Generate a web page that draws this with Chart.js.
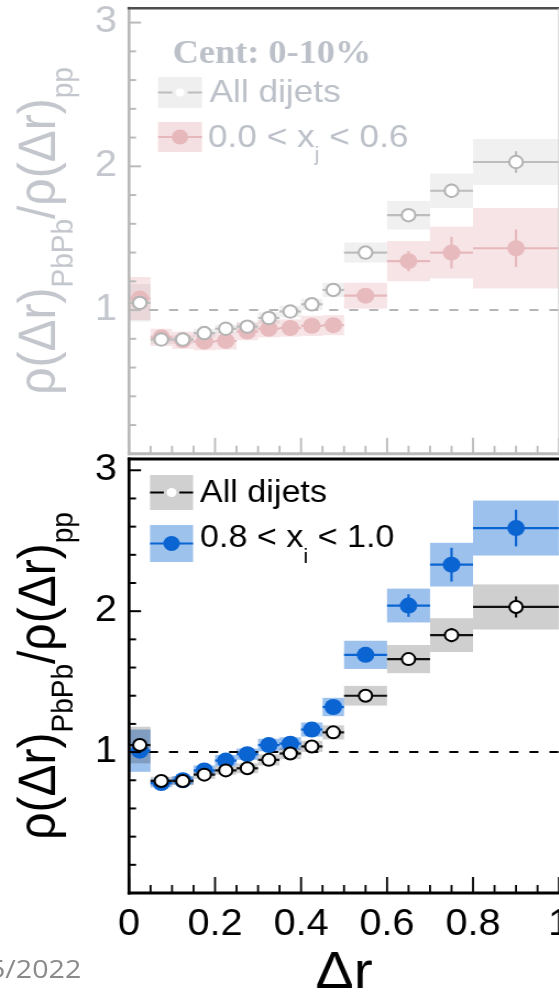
<!DOCTYPE html>
<html lang="en">
<head>
<meta charset="UTF-8">
<title>Jet shape ratio PbPb / pp</title>
<style>
  html, body { margin: 0; padding: 0; background: #fff; }
  body { width: 559px; height: 993px; overflow: hidden; position: relative; }
  /* the figure is drawn slightly wide, as in the slide it comes from */
  #figure { position: absolute; left: 0; top: 0; width: 560px; height: 993px;
            transform: scaleX(1.1); transform-origin: 0 0; }
  #topPanel { position: absolute; left: 0; top: 0; }
  #bottomPanel { position: absolute; left: 0; top: 440px; }
  #footer { position: absolute; left: -10px; top: 955px; font: 26px/26px 'Open Sans', sans-serif; color: #8a8a8a; white-space: nowrap; }
</style>
<script src="https://cdn.jsdelivr.net/npm/chart.js@4"></script>
</head>
<body>
<div id="figure">
  <canvas id="topPanel" width="560" height="462" style="width:560px;height:462px"></canvas>
  <canvas id="bottomPanel" width="560" height="553" style="width:560px;height:553px"></canvas>
  <div id="footer">5/2022</div>
</div>

<script>
const STRETCH = 1.1;

// Δr bins
const binLo  = [0, 0.05, 0.1, 0.15, 0.2, 0.25, 0.3, 0.35, 0.4, 0.45, 0.5, 0.6, 0.7, 0.8];
const binHi  = [0.05, 0.1, 0.15, 0.2, 0.25, 0.3, 0.35, 0.4, 0.45, 0.5, 0.6, 0.7, 0.8, 1.0];
const binMid = [0.025, 0.075, 0.125, 0.175, 0.225, 0.275, 0.325, 0.375, 0.425, 0.475, 0.55, 0.65, 0.75, 0.9];

// all dijets (same in both panels)
const allDijets     = [1.05, 0.795, 0.795, 0.84, 0.87, 0.885, 0.945, 0.99, 1.04, 1.14, 1.40, 1.66, 1.83, 2.03];
const allDijetsStat = [0.01, 0.005, 0.005, 0.005, 0.005, 0.005, 0.005, 0.01, 0.01, 0.01, 0.02, 0.03, 0.05, 0.075];
const allDijetsSys  = [0.13, 0.03, 0.03, 0.03, 0.03, 0.035, 0.04, 0.04, 0.04, 0.05, 0.07, 0.10, 0.12, 0.16];

// 0.0 < xj < 0.6
const xjLow     = [1.08, 0.81, 0.79, 0.78, 0.785, 0.85, 0.87, 0.875, 0.89, 0.895, 1.10, 1.34, 1.40, 1.43];
const xjLowStat = [0.03, 0.02, 0.02, 0.02, 0.02, 0.02, 0.02, 0.02, 0.03, 0.03, 0.04, 0.07, 0.11, 0.13];
const xjLowSys  = [0.15, 0.06, 0.06, 0.06, 0.06, 0.06, 0.06, 0.06, 0.07, 0.07, 0.09, 0.14, 0.18, 0.28];

// 0.8 < xj < 1.0
const xjHigh     = [1.01, 0.78, 0.80, 0.87, 0.94, 0.985, 1.05, 1.06, 1.16, 1.32, 1.69, 2.04, 2.33, 2.59];
const xjHighStat = [0.02, 0.01, 0.01, 0.01, 0.01, 0.01, 0.015, 0.015, 0.02, 0.03, 0.05, 0.08, 0.12, 0.13];
const xjHighSys  = [0.15, 0.03, 0.03, 0.035, 0.04, 0.04, 0.045, 0.045, 0.05, 0.065, 0.10, 0.12, 0.155, 0.195];

const xTicks = [0, 0.2, 0.4, 0.6, 0.8, 1];
const xTickLabels = ['0', '0.2', '0.4', '0.6', '0.8', '1'];
const yTicks = [1, 2, 3];

const SANS = "'Liberation Sans', Arial, sans-serif";
const SERIF = "'Liberation Serif', 'Times New Roman', serif";

function points(values) {
  return binMid.map((x, i) => ({ x: x, y: values[i] }));
}

function line(ctx, x0, y0, x1, y1) {
  ctx.beginPath();
  ctx.moveTo(x0, y0);
  ctx.lineTo(x1, y1);
  ctx.stroke();
}

// text with subscripts: parts = [[text, isSub], ...]
function richText(ctx, parts, x, y, size, subSize, drop, measureOnly) {
  let cx = x;
  parts.forEach(([t, sub]) => {
    ctx.font = (sub ? subSize : size) + 'px ' + SANS;
    if (!measureOnly) ctx.fillText(t, cx, y + (sub ? drop : 0));
    cx += ctx.measureText(t).width;
  });
  return cx - x;
}

const yTitleParts = [['ρ(Δr)', 0], ['PbPb', 1], ['/ρ(Δr)', 0], ['pp', 1]];

function drawYTitle(ctx, area, color) {
  ctx.save();
  ctx.fillStyle = color;
  ctx.textBaseline = 'alphabetic';
  ctx.translate(50, (area.top + area.bottom) / 2);
  ctx.rotate(-Math.PI / 2);
  const w = richText(ctx, yTitleParts, 0, 0, 48, 28, 16, true);
  richText(ctx, yTitleParts, -w / 2, 0, 48, 28, 16, false);
  ctx.restore();
}

// boxes, bin lines, error bars and frame for one panel
function panelDecor(style) {
  return {
    id: 'panelDecor',
    beforeDatasetsDraw(chart) {
      const ctx = chart.ctx, xs = chart.scales.x, ys = chart.scales.y, area = chart.chartArea;
      ctx.save();
      for (let d = chart.data.datasets.length - 1; d >= 0; d--) {
        const ds = chart.data.datasets[d];
        ctx.fillStyle = ds.boxColor;
        ds.data.forEach((p, i) => {
          const x0 = xs.getPixelForValue(binLo[i]), x1 = xs.getPixelForValue(binHi[i]);
          const y0 = ys.getPixelForValue(p.y + ds.sys[i]), y1 = ys.getPixelForValue(p.y - ds.sys[i]);
          ctx.fillRect(x0, y0, x1 - x0, y1 - y0);
        });
      }
      // unity line
      const y1 = ys.getPixelForValue(1);
      ctx.strokeStyle = style.refColor;
      ctx.lineWidth = 2;
      ctx.setLineDash([8.2, 10]);
      line(ctx, area.left, y1, area.right, y1);
      ctx.restore();
    },
    beforeDatasetDraw(chart, args) {
      const ctx = chart.ctx, xs = chart.scales.x, ys = chart.scales.y;
      const ds = chart.data.datasets[args.index];
      ctx.save();
      ctx.strokeStyle = ds.barColor;
      ds.data.forEach((p, i) => {
        const y = ys.getPixelForValue(p.y);
        const xm = xs.getPixelForValue(p.x);
        ctx.lineWidth = 2.2;
        line(ctx, xs.getPixelForValue(binLo[i]), y, xs.getPixelForValue(binHi[i]), y);
        ctx.lineWidth = 2.4 / STRETCH;
        line(ctx, xm, ys.getPixelForValue(p.y + ds.stat[i]), xm, ys.getPixelForValue(p.y - ds.stat[i]));
      });
      ctx.restore();
    },
    afterDraw(chart) {
      const ctx = chart.ctx, xs = chart.scales.x, ys = chart.scales.y, area = chart.chartArea;
      ctx.save();
      ctx.setLineDash([]);
      // inward ticks
      ctx.strokeStyle = style.axisColor;
      ctx.lineWidth = 2 / STRETCH;
      for (let k = 0; k <= 20; k++) {
        const px = xs.getPixelForValue(k * 0.05);
        line(ctx, px, area.bottom, px, area.bottom - (k % 4 === 0 ? 16 : 8));
      }
      ctx.lineWidth = 2;
      for (let k = 1; k * 0.2 <= ys.max; k++) {
        const py = ys.getPixelForValue(k * 0.2);
        line(ctx, area.left, py, area.left + (k % 5 === 0 ? 12 : 7) / STRETCH, py);
      }
      // axes
      ctx.lineWidth = 3;
      line(ctx, area.left - 1.4, area.bottom, chart.width, area.bottom);
      ctx.lineWidth = 3 / STRETCH;
      line(ctx, area.left, area.top - 1.5, area.left, area.bottom + 1.5);
      ctx.strokeStyle = style.frameColor;
      ctx.lineWidth = style.frameWidth;
      line(ctx, area.left - 1.4, area.top, chart.width, area.top);
      if (style.rightColor) {
        ctx.strokeStyle = style.rightColor;
        ctx.lineWidth = 1.5;
        line(ctx, area.right, area.top, area.right, area.bottom);
      }
      drawYTitle(ctx, area, style.labelColor);
      style.legend(ctx, area, xs);
      ctx.restore();
    }
  };
}

function legendEntry(ctx, x0, x1, yTop, yBot, fill, lineColor, gapped, dot, dotR) {
  ctx.fillStyle = fill;
  ctx.fillRect(x0, yTop, x1 - x0, yBot - yTop);
  const ym = (yTop + yBot) / 2, xm = (x0 + x1) / 2;
  ctx.strokeStyle = lineColor;
  ctx.lineWidth = 2;
  if (gapped) {
    line(ctx, x0, ym, xm - 7, ym);
    line(ctx, xm + 7, ym, x1, ym);
  } else {
    line(ctx, x0, ym, x1, ym);
  }
  ctx.fillStyle = dot;
  ctx.beginPath();
  ctx.arc(xm, ym, dotR, 0, Math.PI * 2);
  ctx.fill();
}

function topLegend(ctx) {
  const c = '#bcc0c8';
  ctx.textBaseline = 'alphabetic';
  ctx.fillStyle = c;
  ctx.font = 'bold 33px ' + SERIF;
  ctx.fillText('Cent: 0-10%', 157, 63);
  legendEntry(ctx, 143.6, 183.6, 77, 108, '#efefef', '#bdbdbd', true, '#ffffff', 4);
  ctx.fillStyle = c;
  ctx.font = '32px ' + SANS;
  ctx.fillText('All dijets', 190.5, 101.5);
  legendEntry(ctx, 143.6, 183.6, 122, 152, '#f4e0e2', '#e6b8bc', false, '#e6b8bc', 7.5);
  ctx.fillStyle = c;
  richText(ctx, [['0.0 < x', 0], ['j', 1], [' < 0.6', 0]], 189, 147, 32, 20, 14, false);
}

function bottomLegend(ctx) {
  ctx.textBaseline = 'alphabetic';
  legendEntry(ctx, 136.4, 175.5, 35, 70, '#d0d0d0', '#000000', true, '#ffffff', 4.5);
  ctx.fillStyle = '#000';
  ctx.font = '31px ' + SANS;
  ctx.fillText('All dijets', 181.8, 62);
  legendEntry(ctx, 136.4, 175.5, 85, 122, '#9dc2ec', '#0a64d2', false, '#0a64d2', 7.5);
  ctx.fillStyle = '#000';
  richText(ctx, [['0.8 < x', 0], ['i', 1], [' < 1.0', 0]], 181.8, 107, 31, 20, 16, false);
  // Δr axis title
  ctx.font = '52px ' + SANS;
  ctx.textAlign = 'center';
  ctx.fillText('Δr', 312.7, 548);
}

function scalesFor(yMax, labelColor, showX, xHeight, yWidth) {
  return {
    x: {
      type: 'linear', min: 0, max: 1,
      afterBuildTicks: s => { s.ticks = xTicks.map(v => ({ value: v })); },
      afterFit: s => { s.height = xHeight; s.paddingLeft = 0; s.paddingRight = 0; },
      grid: { display: false, drawTicks: false },
      border: { display: false },
      ticks: {
        display: showX, autoSkip: false, maxRotation: 0, padding: 10,
        color: labelColor, font: { size: 36, family: SANS },
        callback: v => xTickLabels[xTicks.indexOf(v)]
      }
    },
    y: {
      type: 'linear', min: 0, max: yMax,
      afterBuildTicks: s => { s.ticks = yTicks.map(v => ({ value: v })); },
      afterFit: s => { s.width = yWidth; s.paddingTop = 0; s.paddingBottom = 0; },
      grid: { display: false, drawTicks: false },
      border: { display: false },
      ticks: { padding: 11, color: labelColor, font: { size: 36, family: SANS } }
    }
  };
}

const baseOptions = {
  responsive: false,
  animation: false,
  events: [],
  plugins: { legend: { display: false }, tooltip: { enabled: false } }
};

// upper panel: faded 0.0 < xj < 0.6
new Chart(document.getElementById('topPanel'), {
  type: 'scatter',
  data: {
    datasets: [
      { data: points(allDijets), stat: allDijetsStat, sys: allDijetsSys,
        boxColor: 'rgba(0,0,0,0.06)', barColor: '#bdbdbd',
        pointRadius: 6.2, pointBackgroundColor: '#ffffff', pointBorderColor: '#b3b3b3', pointBorderWidth: 2 },
      { data: points(xjLow), stat: xjLowStat, sys: xjLowSys,
        boxColor: 'rgba(205,90,100,0.16)', barColor: '#e6b8bc',
        pointRadius: 8, pointBackgroundColor: '#e7babe', pointBorderColor: '#e7babe', pointBorderWidth: 0 }
    ]
  },
  options: Object.assign({}, baseOptions, {
    layout: { padding: { top: 8, right: 51.8, left: 0, bottom: 0 } },
    scales: scalesFor(3.1, '#c3c6cc', false, 4, 117.3)
  }),
  plugins: [panelDecor({
    refColor: '#b5b5b5', axisColor: '#bababa', frameColor: '#4e4e4e', frameWidth: 2.5,
    rightColor: '#d0d0d0', labelColor: '#c3c6cc', legend: topLegend
  })]
});

// lower panel: 0.8 < xj < 1.0
new Chart(document.getElementById('bottomPanel'), {
  type: 'scatter',
  data: {
    datasets: [
      { data: points(allDijets), stat: allDijetsStat, sys: allDijetsSys,
        boxColor: 'rgba(0,0,0,0.19)', barColor: '#111111',
        pointRadius: 6, pointBackgroundColor: '#ffffff', pointBorderColor: '#000000', pointBorderWidth: 2 },
      { data: points(xjHigh), stat: xjHighStat, sys: xjHighSys,
        boxColor: 'rgba(10,100,210,0.4)', barColor: '#0a64d2',
        pointRadius: 8, pointBackgroundColor: '#0a64d2', pointBorderColor: '#0a64d2', pointBorderWidth: 0 }
    ]
  },
  options: Object.assign({}, baseOptions, {
    layout: { padding: { top: 19, right: 51.8, left: 0, bottom: 0 } },
    scales: scalesFor(3.08, '#000000', true, 100, 117.3)
  }),
  plugins: [panelDecor({
    refColor: '#000000', axisColor: '#000000', frameColor: '#000000', frameWidth: 3,
    rightColor: null, labelColor: '#000000', legend: bottomLegend
  })]
});
</script>
</body>
</html>
